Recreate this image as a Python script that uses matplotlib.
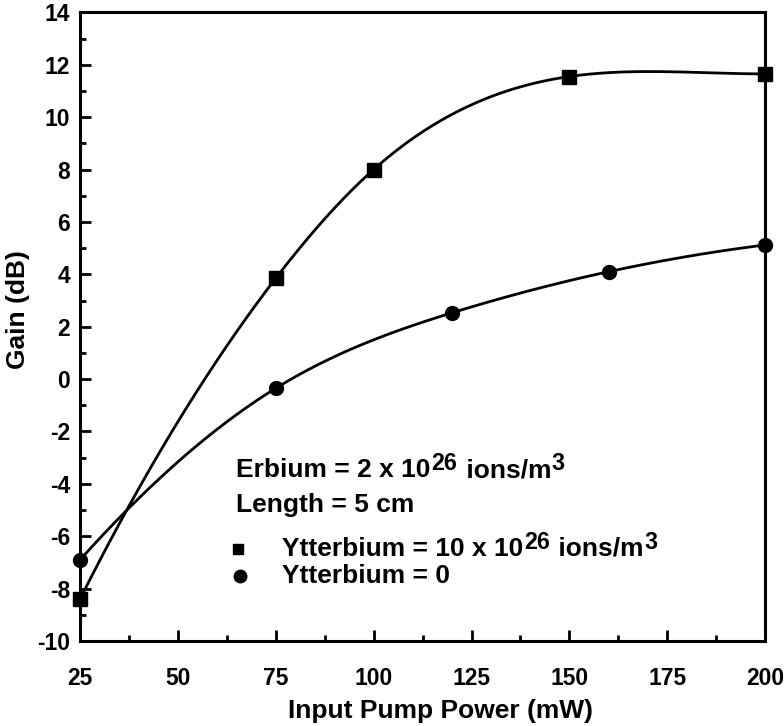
import numpy as np
import matplotlib
matplotlib.use('Agg')
import matplotlib.pyplot as plt
from matplotlib.ticker import MultipleLocator

plt.rcParams['font.family'] = ['Liberation Sans', 'DejaVu Sans']
plt.rcParams['font.weight'] = 'bold'
plt.rcParams['axes.unicode_minus'] = False

# gain vs pump power, two ytterbium concentrations
pump_yb = [25, 75, 100, 150, 200]
gain_yb = [-8.4, 3.85, 8.0, 11.55, 11.65]

pump_er = [25, 75, 120, 160, 200]
gain_er = [-6.9, -0.35, 2.53, 4.1, 5.12]

xticks = [25, 50, 75, 100, 125, 150, 175, 200]
yticks = list(range(-10, 15, 2))


def end_slope(h0, h1, d0, d1):
    # three-point end derivative, kept on the side of the last secant
    s = ((2 * h0 + h1) * d0 - h0 * d1) / (h0 + h1)
    return 0.0 if np.sign(s) != np.sign(d0) else s


def spline(x, y, xs):
    # clamped cubic spline through the measured points
    x = np.asarray(x, float)
    y = np.asarray(y, float)
    n = len(x)
    h = np.diff(x)
    dl = np.diff(y) / h
    s0 = end_slope(h[0], h[1], dl[0], dl[1])
    s1 = end_slope(h[-1], h[-2], dl[-1], dl[-2])
    A = np.zeros((n, n))
    b = np.zeros(n)
    A[0, 0], A[0, 1] = 2 * h[0], h[0]
    b[0] = 6 * (dl[0] - s0)
    A[-1, -2], A[-1, -1] = h[-1], 2 * h[-1]
    b[-1] = 6 * (s1 - dl[-1])
    for i in range(1, n - 1):
        A[i, i - 1] = h[i - 1]
        A[i, i] = 2 * (h[i - 1] + h[i])
        A[i, i + 1] = h[i]
        b[i] = 6 * (dl[i] - dl[i - 1])
    M = np.linalg.solve(A, b)
    idx = np.clip(np.searchsorted(x, xs) - 1, 0, n - 2)
    xl, xr = x[idx], x[idx + 1]
    hh = h[idx]
    return (M[idx] * (xr - xs)**3 / (6 * hh) + M[idx + 1] * (xs - xl)**3 / (6 * hh)
            + (y[idx] / hh - M[idx] * hh / 6) * (xr - xs)
            + (y[idx + 1] / hh - M[idx + 1] * hh / 6) * (xs - xl))


def sup_line(ax, x, y, parts, size=19):
    # text with superscripts, pieces chained left to right
    first = ax.text(x, y, parts[0][0], transform=ax.transAxes, fontsize=size,
                    fontweight='bold', va='center')
    prev = first
    base = first
    for s, sup in parts[1:]:
        if sup:
            t = ax.annotate(s, xy=(1, 0), xycoords=(prev, base),
                            xytext=(0.5, 5), textcoords='offset points',
                            fontsize=size * 0.88, fontweight='bold', va='bottom')
        else:
            t = ax.annotate(s, xy=(1, 0), xycoords=(prev, base),
                            xytext=(1, 0), textcoords='offset points',
                            fontsize=size, fontweight='bold', va='bottom')
            base = t
        prev = t


fig = plt.figure(figsize=(7.84, 7.26), dpi=100)
ax = fig.add_axes([0.102, 0.117, 0.874, 0.866])

xs = np.linspace(25, 200, 400)
ax.plot(xs, spline(pump_yb, gain_yb, xs), color='black', lw=2.0, clip_on=False)
ax.plot(xs, spline(pump_er, gain_er, xs), color='black', lw=2.0, clip_on=False)
ax.plot(pump_yb, gain_yb, 's', color='black', ms=10, clip_on=False, zorder=5)
ax.plot(pump_er, gain_er, 'o', color='black', ms=10, clip_on=False, zorder=5)

ax.set_xlim(25, 200)
ax.set_ylim(-10, 14)
ax.set_xticks(xticks)
ax.set_xticklabels([str(v) for v in xticks])
ax.set_yticks(yticks)
ax.set_yticklabels([str(v) for v in yticks])
ax.xaxis.set_minor_locator(MultipleLocator(12.5))
ax.yaxis.set_minor_locator(MultipleLocator(1))

for s in ax.spines.values():
    s.set_linewidth(2.2)
ax.tick_params(which='major', direction='in', length=8, width=2,
               top=False, right=False)
ax.tick_params(which='minor', direction='in', length=4, width=2,
               top=False, right=False)
ax.tick_params(axis='x', which='major', pad=19)
ax.tick_params(axis='y', which='major', pad=7)
for lab in ax.get_xticklabels() + ax.get_yticklabels():
    lab.set_fontsize(16.5)
    lab.set_fontweight('bold')

ax.set_xlabel('Input Pump Power (mW)', fontsize=19, fontweight='bold')
ax.set_ylabel('Gain (dB)', fontsize=19, fontweight='bold')
ax.xaxis.set_label_coords(0.526, -0.092)
ax.yaxis.set_label_coords(-0.073, 0.527)

# annotation block
sup_line(ax, 0.228, 0.272, [('Erbium = 2 x 10', False), ('26', True),
                            (' ions/m', False), ('3', True)])
ax.text(0.228, 0.217, 'Length = 5 cm', transform=ax.transAxes,
        fontsize=19, fontweight='bold', va='center')
ax.plot([0.23], [0.147], 's', color='black', ms=7, transform=ax.transAxes)
sup_line(ax, 0.295, 0.147, [('Ytterbium = 10 x 10', False), ('26', True),
                            (' ions/m', False), ('3', True)])
ax.plot([0.233], [0.103], 'o', color='black', ms=9, transform=ax.transAxes)
ax.text(0.295, 0.103, 'Ytterbium = 0', transform=ax.transAxes,
        fontsize=19, fontweight='bold', va='center')

fig.savefig('out.png', dpi=100)
